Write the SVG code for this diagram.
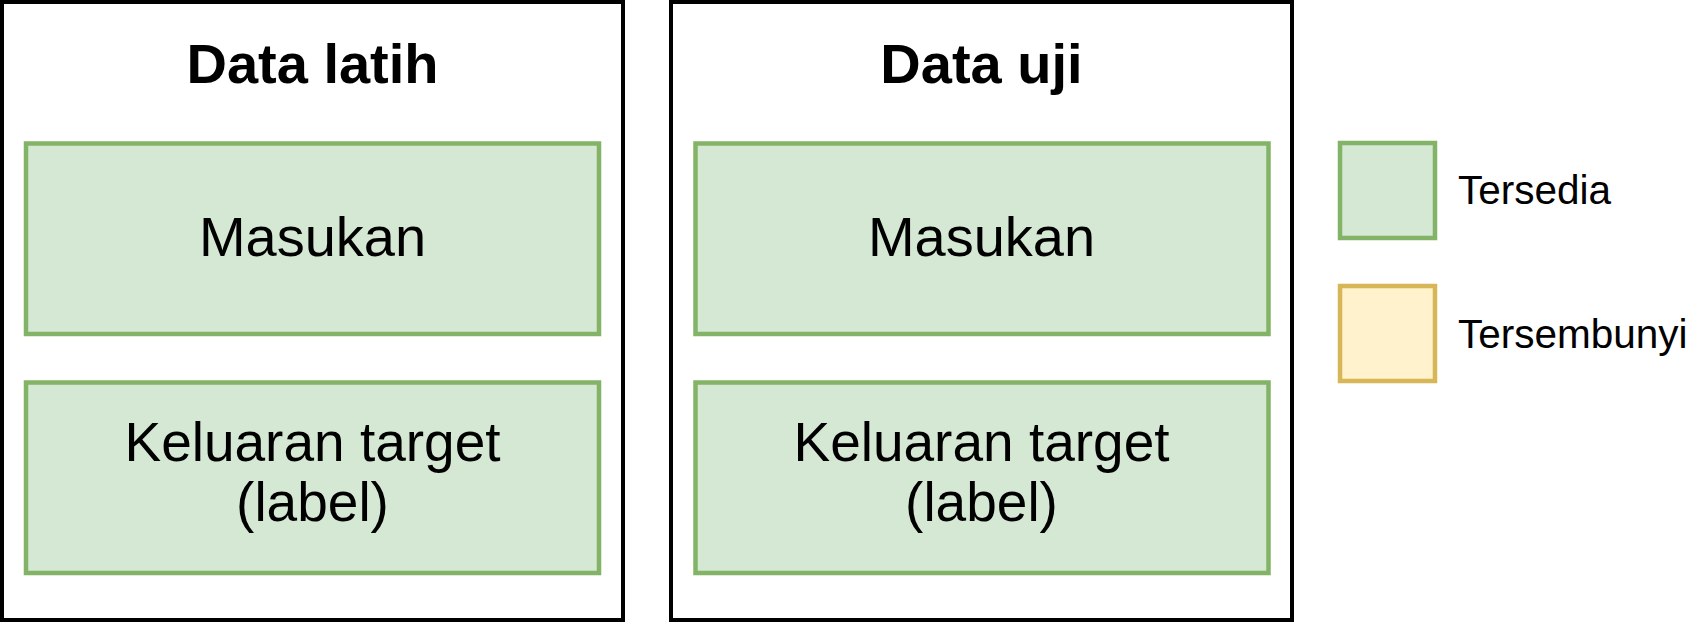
<svg xmlns="http://www.w3.org/2000/svg" width="1696" height="624" viewBox="0 0 1696 624">
<style>
.outer{fill:#ffffff;stroke:#000000;stroke-width:4}
.avail{fill:#d5e8d4;stroke:#82b366;stroke-width:4.5}
.hidden{fill:#fff2cc;stroke:#d6b656;stroke-width:4.5}
.title{font-family:"Liberation Sans",Arial,sans-serif;font-weight:bold;font-size:56px;fill:#000;text-anchor:middle}
.lbl{font-family:"Liberation Sans",Arial,sans-serif;font-size:56px;fill:#000;text-anchor:middle}
.lbl2{font-family:"Liberation Sans",Arial,sans-serif;font-size:55px;fill:#000;text-anchor:middle}
.leg{font-family:"Liberation Sans",Arial,sans-serif;font-size:40.5px;fill:#000}
</style>
<rect width="1696" height="624" fill="#ffffff"/>
<g id="train">
<rect class="outer" x="2" y="2" width="621" height="618"/>
<text class="title" x="312.5" y="83">Data latih</text>
</g>
<g id="train-input">
<rect class="avail" x="26" y="143.5" width="573" height="190.5"/>
<text class="lbl" x="312.5" y="256">Masukan</text>
</g>
<g id="train-target">
<rect class="avail" x="26" y="382.5" width="573" height="190.5"/>
<text class="lbl2" x="312.5" y="461">Keluaran target</text>
<text class="lbl2" x="312.5" y="521">(label)</text>
</g>
<g id="test">
<rect class="outer" x="671" y="2" width="621" height="618"/>
<text class="title" x="981.5" y="83">Data uji</text>
</g>
<g id="test-input">
<rect class="avail" x="695.5" y="143.5" width="573" height="190.5"/>
<text class="lbl" x="981.5" y="256">Masukan</text>
</g>
<g id="test-target">
<rect class="avail" x="695.5" y="382.5" width="573" height="190.5"/>
<text class="lbl2" x="981.5" y="461">Keluaran target</text>
<text class="lbl2" x="981.5" y="521">(label)</text>
</g>
<g id="legend-available">
<rect class="avail" x="1340" y="143" width="95" height="95"/>
<text class="leg" x="1458" y="204">Tersedia</text>
</g>
<g id="legend-hidden">
<rect class="hidden" x="1340" y="286" width="95" height="95"/>
<text class="leg" x="1458" y="348">Tersembunyi</text>
</g>
<g id="connectors"></g>
</svg>
